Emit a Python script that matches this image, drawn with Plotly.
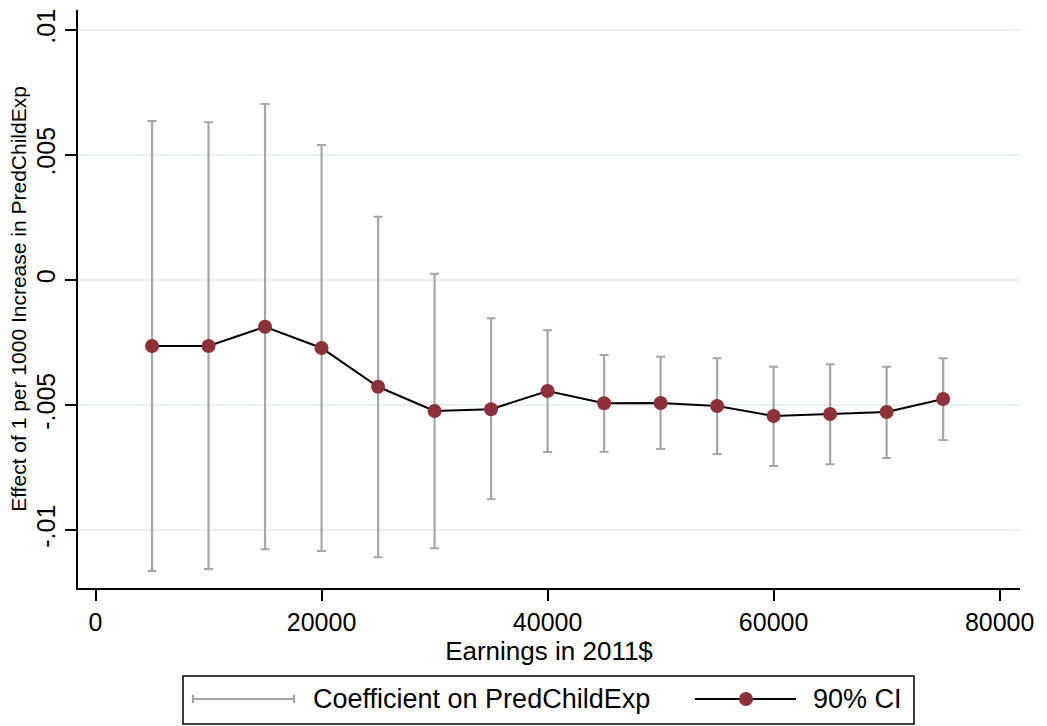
import plotly.graph_objects as go

# Earnings bins (2011$)
earnings = [5000, 10000, 15000, 20000, 25000, 30000, 35000, 40000,
            45000, 50000, 55000, 60000, 65000, 70000, 75000]
# Point estimates
coef = [-0.00264, -0.00264, -0.00187, -0.00272, -0.00427, -0.00524, -0.00517,
        -0.00444, -0.00493, -0.00492, -0.00504, -0.00544, -0.00536, -0.00528, -0.00476]
# 90% confidence bounds
ci_hi = [0.00636, 0.00631, 0.00704, 0.00540, 0.00253, 0.00025, -0.00153,
         -0.00201, -0.00300, -0.00307, -0.00313, -0.00347, -0.00337, -0.00347, -0.00313]
ci_lo = [-0.01164, -0.01156, -0.01077, -0.01084, -0.01109, -0.01073, -0.00877,
         -0.00688, -0.00687, -0.00676, -0.00696, -0.00744, -0.00737, -0.00712, -0.00640]

y_ticks = [0.01, 0.005, 0, -0.005, -0.01]
y_ticktext = [".01", ".005", "0", "-.005", "-.01"]
x_ticks = [0, 20000, 40000, 60000, 80000]
x_ticktext = ["0", "20000", "40000", "60000", "80000"]

FONT = "Liberation Sans, Arial, sans-serif"
GRAY = "#a6a6a6"
MAROON = "#8e3039"

W, H = 1047, 726
ML, MR, MT, MB = 78, 27, 10, 138
PW, PH = W - ML - MR, H - MT - MB


def px(x):
    return (x - ML) / PW


def py(y):
    return (H - MB - y) / PH


fig = go.Figure()

fig.add_trace(go.Scatter(
    x=earnings, y=coef, mode="markers",
    marker=dict(size=1, opacity=0),
    error_y=dict(type="data", symmetric=False,
                 array=[h - c for h, c in zip(ci_hi, coef)],
                 arrayminus=[c - l for c, l in zip(coef, ci_lo)],
                 color=GRAY, thickness=2.2, width=4.5),
    showlegend=False, hoverinfo="skip",
))

fig.add_trace(go.Scatter(
    x=earnings, y=coef, mode="lines+markers",
    line=dict(color="black", width=2),
    marker=dict(color=MAROON, size=14),
    showlegend=False,
))

# Legend box drawn below the plot
LEG_Y = 699
shapes = [
    dict(type="rect", xref="paper", yref="paper",
         x0=px(183), x1=px(914), y0=py(724), y1=py(676),
         line=dict(color="black", width=1.5), fillcolor="white"),
    dict(type="line", xref="paper", yref="paper",
         x0=px(193), x1=px(294), y0=py(LEG_Y), y1=py(LEG_Y),
         line=dict(color=GRAY, width=2.2)),
    dict(type="line", xref="paper", yref="paper",
         x0=px(193), x1=px(193), y0=py(LEG_Y - 4), y1=py(LEG_Y + 4),
         line=dict(color=GRAY, width=2.2)),
    dict(type="line", xref="paper", yref="paper",
         x0=px(294), x1=px(294), y0=py(LEG_Y - 4), y1=py(LEG_Y + 4),
         line=dict(color=GRAY, width=2.2)),
    dict(type="line", xref="paper", yref="paper",
         x0=px(695), x1=px(796), y0=py(LEG_Y), y1=py(LEG_Y),
         line=dict(color="black", width=2)),
    dict(type="circle", xref="paper", yref="paper",
         x0=px(739), x1=px(753), y0=py(LEG_Y + 7), y1=py(LEG_Y - 7),
         line=dict(color=MAROON, width=0), fillcolor=MAROON),
]
annotations = [
    dict(text="Coefficient on PredChildExp", xref="paper", yref="paper",
         x=px(311), y=py(LEG_Y), xanchor="left", yanchor="middle",
         showarrow=False, font=dict(size=27, color="black", family=FONT)),
    dict(text="90% CI", xref="paper", yref="paper",
         x=px(811), y=py(LEG_Y), xanchor="left", yanchor="middle",
         showarrow=False, font=dict(size=27, color="black", family=FONT)),
]

fig.update_layout(
    width=W, height=H,
    margin=dict(l=ML, r=MR, t=MT, b=MB),
    paper_bgcolor="white", plot_bgcolor="white",
    font=dict(family=FONT, color="black"),
    shapes=shapes, annotations=annotations,
    xaxis=dict(
        range=[-1550, 81800], tickvals=x_ticks, ticktext=x_ticktext,
        showgrid=False, zeroline=False,
        showline=True, linecolor="black", linewidth=1.5,
        ticks="outside", ticklen=11, tickwidth=1.5, tickcolor="black",
        tickfont=dict(size=25),
        title=dict(text="Earnings in 2011$", font=dict(size=26), standoff=0),
    ),
    yaxis=dict(
        range=[-0.01232, 0.0108], tickvals=y_ticks, ticktext=y_ticktext,
        tickangle=-90,
        showgrid=True, gridcolor="#e9f1f2", gridwidth=1.5, zeroline=False,
        showline=True, linecolor="black", linewidth=1.5,
        ticks="outside", ticklen=11, tickwidth=1.5, tickcolor="black",
        tickfont=dict(size=25),
        title=dict(text="Effect of 1 per 1000 Increase in PredChildExp",
                   font=dict(size=21), standoff=0),
    ),
)

fig.write_html("out.html")
